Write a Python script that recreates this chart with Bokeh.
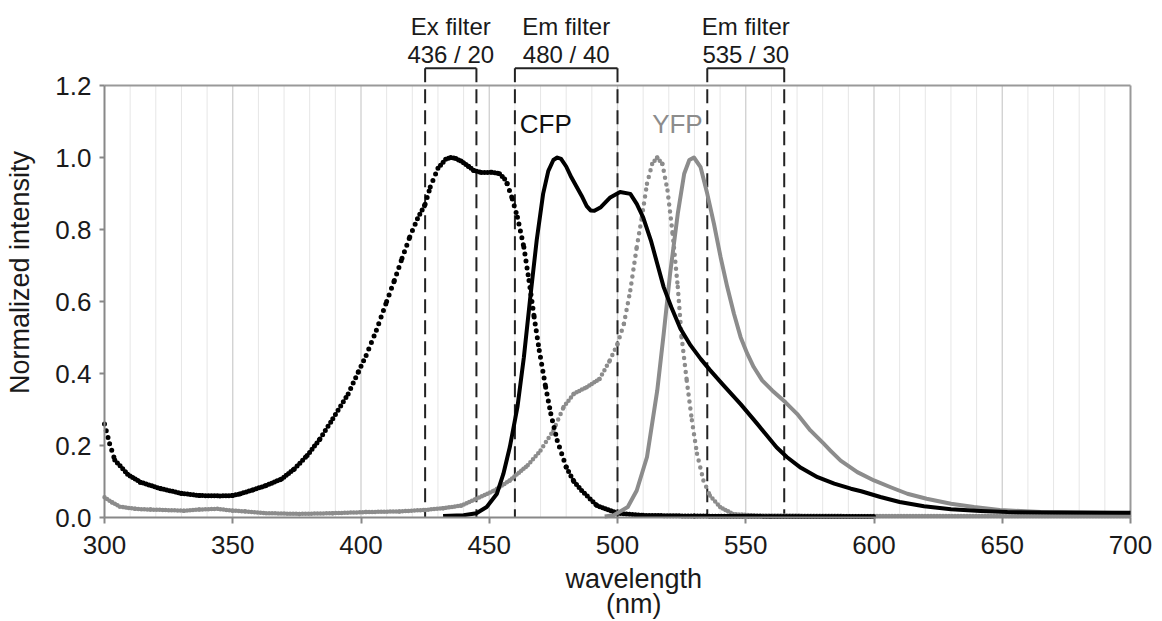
import math
from bokeh.plotting import figure
from bokeh.models import Range1d, FixedTicker
from bokeh.core.properties import value
from bokeh.embed import file_html
from bokeh.resources import INLINE

FONT = "Liberation Sans"

# ---------------- data ----------------
# CFP excitation (black, dotted)
cfp_ex_nm = [300, 302, 304, 309, 314, 322, 330, 337, 345, 350, 353, 358, 363, 369,
             374, 379, 384, 389, 395, 399, 402, 406, 410, 413, 416, 419, 422, 425,
             427, 430, 433, 435, 437, 439, 442, 444, 447, 451, 454, 456, 457, 459,
             461, 463.5, 465.5, 467.5, 469.5, 472, 474, 476.5, 480, 483, 486, 492,
             500, 510, 530, 560, 600]
cfp_ex_val = [0.26, 0.205, 0.16, 0.12, 0.098, 0.08, 0.067, 0.061, 0.06, 0.061, 0.066,
              0.077, 0.089, 0.107, 0.135, 0.172, 0.218, 0.274, 0.343, 0.405, 0.45,
              0.52, 0.60, 0.658, 0.72, 0.779, 0.83, 0.87, 0.918, 0.97, 0.995, 1.0,
              0.997, 0.99, 0.975, 0.964, 0.958, 0.959, 0.955, 0.94, 0.927, 0.885,
              0.834, 0.751, 0.658, 0.557, 0.464, 0.362, 0.288, 0.214, 0.14, 0.10,
              0.075, 0.033, 0.012, 0.006, 0.004, 0.003, 0.003]

# YFP excitation (gray, dotted)
yfp_ex_nm = [300, 303, 306, 312, 318, 331, 337, 344, 350, 355, 363, 376, 389, 402,
             415, 425, 432, 439, 445, 452, 458, 465, 470, 475, 479, 483, 488, 493,
             497, 500, 502.5, 505, 507.5, 509.5, 511.5, 513.5, 515.5, 517.5, 519.5,
             521.5, 523.5, 525, 527, 529, 531, 533.5, 536, 540, 545, 552, 600, 700]
yfp_ex_val = [0.056, 0.042, 0.03, 0.024, 0.022, 0.019, 0.022, 0.024, 0.019, 0.017,
              0.012, 0.010, 0.012, 0.015, 0.017, 0.021, 0.026, 0.033, 0.052, 0.075,
              0.103, 0.145, 0.186, 0.242, 0.307, 0.344, 0.362, 0.385, 0.436, 0.482,
              0.538, 0.631, 0.751, 0.834, 0.927, 0.982, 1.0, 0.982, 0.908, 0.788,
              0.640, 0.501, 0.380, 0.270, 0.177, 0.103, 0.061, 0.029, 0.010, 0.006,
              0.004, 0.004]

# CFP emission (black, solid)
cfp_em_nm = [432, 440, 445, 449, 453, 455.5, 458, 461, 463.5, 466, 468.5, 471, 473,
             475, 476.5, 478, 480, 482, 486, 488, 489.5, 491, 493.5, 497, 501, 505,
             507.5, 510, 513, 515.5, 518, 521, 524.5, 528.5, 532.5, 536, 541, 548,
             554.5, 562, 566, 571.5, 578, 584.5, 591, 595, 602.5, 610, 619.5, 630,
             641.5, 652, 670, 700]
cfp_em_val = [0.004, 0.006, 0.012, 0.029, 0.066, 0.121, 0.195, 0.307, 0.445, 0.612,
              0.770, 0.899, 0.962, 0.993, 1.0, 0.996, 0.975, 0.945, 0.894, 0.865,
              0.853, 0.852, 0.862, 0.888, 0.904, 0.899, 0.871, 0.834, 0.770, 0.705,
              0.640, 0.584, 0.525, 0.478, 0.44, 0.41, 0.37, 0.315, 0.26, 0.195,
              0.168, 0.138, 0.112, 0.094, 0.080, 0.073, 0.057, 0.043, 0.031, 0.023,
              0.018, 0.015, 0.014, 0.013]

# YFP emission (gray, solid)
yfp_em_nm = [495, 498.5, 504, 507.5, 511.5, 515.5, 518, 520.5, 523.5, 526, 528,
             529.8, 532.4, 535, 537.6, 540.2, 542.8, 545.4, 548, 550.6, 553.1, 556.4,
             560.3, 565.5, 570, 575.2, 580.4, 583, 587, 593.5, 600, 606.5, 613,
             620.5, 630, 639, 649, 665, 700]
yfp_em_val = [0.003, 0.006, 0.029, 0.075, 0.168, 0.353, 0.510, 0.677, 0.844, 0.955,
              0.993, 1.0, 0.973, 0.899, 0.816, 0.723, 0.640, 0.566, 0.501, 0.455,
              0.418, 0.381, 0.353, 0.320, 0.288, 0.242, 0.205, 0.186, 0.158, 0.126,
              0.103, 0.084, 0.066, 0.052, 0.038, 0.029, 0.021, 0.015, 0.012]

# filters (edges as drawn in the picture)
filter_names = ["Ex filter", "Em filter", "Em filter"]
filter_specs = ["436 / 20", "480 / 40", "535 / 30"]
filter_lo = [425, 460, 535]
filter_hi = [445, 500, 565]

# curve labels
curve_labels = ["CFP", "YFP"]
curve_label_x = [461.9, 513.5]
curve_label_colors = ["#111111", "#8c8c8c"]

# axes
x_ticks = [300, 350, 400, 450, 500, 550, 600, 650, 700]
y_ticks = [0.0, 0.2, 0.4, 0.6, 0.8, 1.0, 1.2]
y_tick_labels = ["0.0", "0.2", "0.4", "0.6", "0.8", "1.0", "1.2"]
grid_nm = list(range(310, 700, 10))
x_title = "wavelength"
x_unit = "(nm)"
y_title = "Normalized intensity"

X0, X1 = 300, 700
Y_TOP = 1.2

# ---------------- figure ----------------
# The frame fills the whole canvas; the axes sit at fixed data locations.
W, H = 1162, 621
PX_PER_NM = 2.565
PX_PER_UNIT = 360.0
LEFT_PX, BOTTOM_PX = 104, 517
x_start = X0 - LEFT_PX / PX_PER_NM
x_end = X0 + (W - LEFT_PX) / PX_PER_NM
y_end = BOTTOM_PX / PX_PER_UNIT
y_start = -(H - BOTTOM_PX) / PX_PER_UNIT

p = figure(width=W, height=H, output_backend="svg", toolbar_location=None,
           x_range=Range1d(x_start, x_end), y_range=Range1d(y_start, y_end),
           min_border=0, min_border_left=0, min_border_right=0,
           min_border_top=0, min_border_bottom=0,
           background_fill_color="white", border_fill_color="white")
p.outline_line_color = None
p.xgrid.visible = False
p.ygrid.visible = False

# grid lines (vertical only, inside the 0..1.2 box)
minor_x = [g for g in grid_nm if g % 50 != 0]
major_x = [g for g in grid_nm if g % 50 == 0]
p.segment(x0=minor_x, y0=[0] * len(minor_x), x1=minor_x, y1=[Y_TOP] * len(minor_x),
          line_color="#e6e6e6", line_width=1)
p.segment(x0=major_x, y0=[0] * len(major_x), x1=major_x, y1=[Y_TOP] * len(major_x),
          line_color="#cfcfcf", line_width=1.3)

# top and right frame lines
p.line([X0, X1], [Y_TOP, Y_TOP], line_color="#999999", line_width=2)
p.line([X1, X1], [0, Y_TOP], line_color="#999999", line_width=2)

# filter brackets and dashed edges
BR_Y = 1.248
edges = filter_lo + filter_hi
p.segment(x0=edges, y0=[BR_Y] * len(edges), x1=edges, y1=[0] * len(edges),
          line_color="#222222", line_width=2, line_dash="14 7")
p.segment(x0=filter_lo, y0=[BR_Y] * 3, x1=filter_hi, y1=[BR_Y] * 3,
          line_color="#222222", line_width=2)
centers = [(a + b) / 2 for a, b in zip(filter_lo, filter_hi)]
p.text(x=centers, y=[1.364] * 3, text=filter_names, text_align="center",
       text_baseline="alphabetic", text_font=value(FONT), text_font_size="24px",
       text_color="#1a1a1a")
p.text(x=centers, y=[1.287] * 3, text=filter_specs, text_align="center",
       text_baseline="alphabetic", text_font=value(FONT), text_font_size="24px",
       text_color="#1a1a1a")


# dotted (round-dot) style: a dot is started at every data point, and along a
# segment the dots are spaced by at most 7 px, as in the original rendering
def dotted_segments(xs, ys):
    seg_x, seg_y, dashes = [], [], []
    for i in range(len(xs) - 1):
        dx = (xs[i + 1] - xs[i]) * PX_PER_NM
        dy = (ys[i + 1] - ys[i]) * PX_PER_UNIT
        slope = abs(dy / dx)
        gap = int(round(min(7.0, max(3.0, 2.565 * math.sqrt(1 + slope * slope)))))
        seg_x.append([xs[i], xs[i + 1]])
        seg_y.append([ys[i], ys[i + 1]])
        dashes.append(f"0 {gap}")
    return seg_x, seg_y, dashes


for nm, val, col, wid in ((yfp_ex_nm, yfp_ex_val, "#8c8c8c", 4.5),
                          (cfp_ex_nm, cfp_ex_val, "#000000", 5)):
    sx, sy, sd = dotted_segments(nm, val)
    p.multi_line(xs=sx, ys=sy, line_dash=sd, line_color=col, line_width=wid,
                 line_cap="round")

p.line(yfp_em_nm, yfp_em_val, line_color="#8c8c8c", line_width=4, line_join="round")
p.line(cfp_em_nm, cfp_em_val, line_color="#000000", line_width=4, line_join="round")

p.text(x=curve_label_x, y=[1.092] * 2, text=curve_labels, text_align="left",
       text_baseline="alphabetic", text_font=value(FONT), text_font_size="26px",
       text_color=curve_label_colors)

# axes styling
for ax in (p.xaxis[0], p.yaxis[0]):
    ax.axis_line_color = "#888888"
    ax.axis_line_width = 2
    ax.major_tick_line_color = "#888888"
    ax.major_tick_line_width = 2
    ax.major_tick_in = 0
    ax.minor_tick_line_color = None
    ax.major_label_text_font = FONT
    ax.major_label_text_font_size = "26px"
    ax.major_label_text_color = "#1a1a1a"

p.xaxis.ticker = FixedTicker(ticks=x_ticks)
p.xaxis.fixed_location = 0
p.xaxis.bounds = (X0, X1)
p.xaxis.major_tick_out = 6
p.xaxis.major_label_standoff = 12
p.yaxis.ticker = FixedTicker(ticks=y_ticks)
p.yaxis.major_label_overrides = dict(zip(y_ticks, y_tick_labels))
p.yaxis.fixed_location = X0
p.yaxis.bounds = (0, Y_TOP)
p.yaxis.major_tick_out = 5
p.yaxis.major_label_standoff = 8

# axis titles (as text inside the canvas-filling frame)
p.text(x=[506.35, 506.35], y=[-0.172, -0.24], text=[x_title, x_unit],
       text_align="center", text_baseline="alphabetic", text_font=value(FONT),
       text_font_size="27px", text_color="#1a1a1a")
p.text(x=[267.25], y=[0.6806], text=[y_title], angle=math.pi / 2,
       text_align="center", text_baseline="middle", text_font=value(FONT),
       text_font_size="27px", text_color="#1a1a1a")

open("out.html", "w").write(file_html(p, INLINE))
